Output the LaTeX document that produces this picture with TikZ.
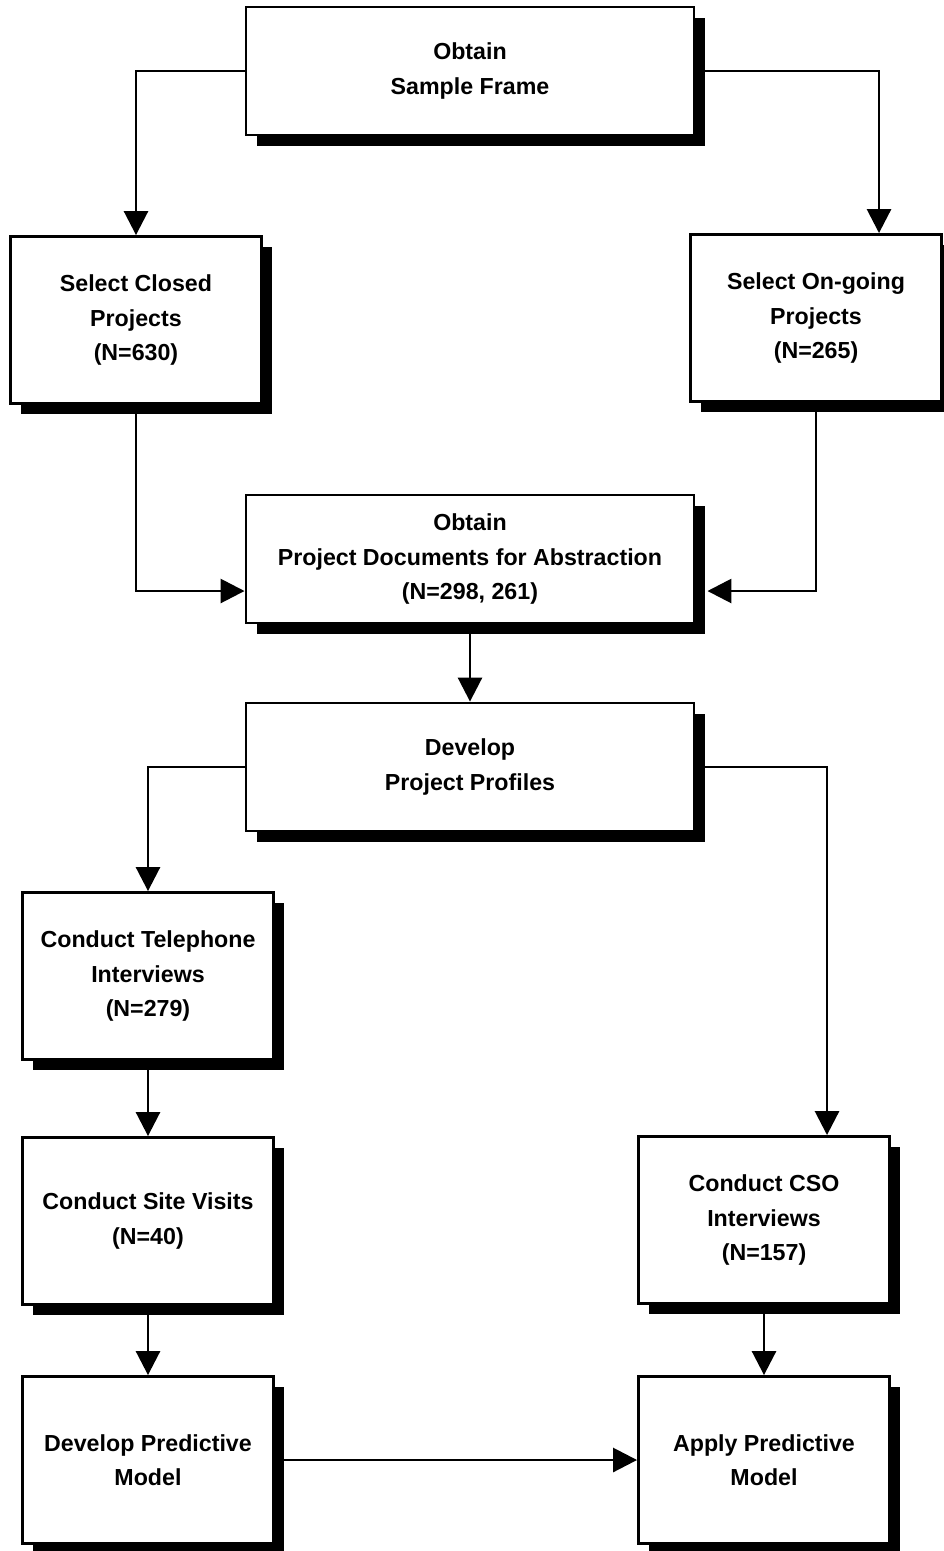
\documentclass[tikz,border=0pt]{standalone}
\usepackage{fontspec}
\setmainfont{Liberation Sans}
\usetikzlibrary{arrows.meta,shadows}

\newcommand{\boxfont}{\fontsize{16.5pt}{24.5pt}\selectfont\bfseries}

\begin{document}
\begin{tikzpicture}[x=0.025cm, y=-0.025cm,
  box/.style={draw, fill=white, line width=2pt, align=center, inner sep=0pt, font=\boxfont,
    drop shadow={shadow xshift=0.27cm, shadow yshift=-0.27cm, fill=black, opacity=1}},
  widebox/.style={box, minimum width=11.2cm, minimum height=3.2cm},
  tallbox/.style={box, minimum width=6.275cm, minimum height=4.175cm},
  arr/.style={line width=2pt, -{Triangle[length=0.6cm, width=0.6cm]}}
]
\useasboundingbox (0,0) rectangle (943,1551);

% Sampling
\node[widebox] (frame) at (470,71) {Obtain\\Sample Frame};
\node[tallbox] (closed) at (136,320) {Select Closed\\Projects\\(N=630)};
\node[tallbox] (ongoing) at (816,318) {Select On-going\\Projects\\(N=265)};

% Abstraction
\node[widebox] (docs) at (470,559) {Obtain\\Project Documents for Abstraction\\(N=298, 261)};
\node[widebox] (profiles) at (470,767) {Develop\\Project Profiles};

% Interviews
\node[tallbox] (phone) at (148,976) {Conduct Telephone\\Interviews\\(N=279)};
\node[tallbox] (site) at (148,1221) {Conduct Site Visits\\(N=40)};
\node[tallbox] (cso) at (764,1220) {Conduct CSO\\Interviews\\(N=157)};

% Model
\node[tallbox] (devmodel) at (148,1460) {Develop Predictive\\Model};
\node[tallbox] (apply) at (764,1460) {Apply Predictive\\Model};

% Connectors
\draw[arr] (frame.west) -| (closed.north);
\draw[arr] (frame.east) -| ([xshift=1.575cm]ongoing.north);
\draw[arr] (closed.south) |- ([yshift=-0.8cm]docs.west);
\draw[arr, shorten >=0.3cm] (ongoing.south) |- ([yshift=-0.8cm]docs.east);
\draw[arr] (docs.south) -- (profiles.north);
\draw[arr] (profiles.west) -| (phone.north);
\draw[arr] (profiles.east) -| ([xshift=1.575cm]cso.north);
\draw[arr] (phone.south) -- (site.north);
\draw[arr] (site.south) -- (devmodel.north);
\draw[arr] (cso.south) -- (apply.north);
\draw[arr] (devmodel.east) -- (apply.west);

\end{tikzpicture}
\end{document}
